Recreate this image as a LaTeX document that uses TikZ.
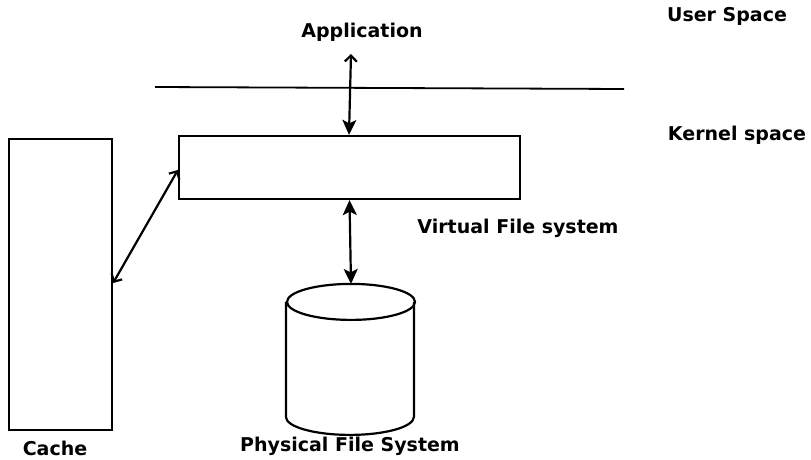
\documentclass[tikz,border=0pt]{standalone}
\usepackage{fontspec}
\setmainfont{DejaVu Sans}
\usetikzlibrary{positioning,arrows.meta}

\begin{document}
\begin{tikzpicture}[x=1pt,y=-1pt,line width=2.2pt,
  lbl/.style={font=\bfseries\fontsize{19}{22}\selectfont,inner sep=0pt},
  fil/.tip={Stealth[length=15pt,width=14pt,inset=3.5pt]},
  opn/.tip={Straight Barb[length=6pt,width=12pt]}]
\useasboundingbox (0,0) rectangle (811,460);
% labels
\node[lbl] (app) at (362,32) {Application};
\node[lbl] (user) at (727,16) {User Space};
\node[lbl] (kern) at (737,135) {Kernel space};
\node[lbl] (vfslbl) at (518,228) {Virtual File system};
\node[lbl] (pfslbl) at (350,446) {Physical File System};
\node[lbl] (cachelbl) at (55,448) {Cache};
% boxes
\node[draw,minimum width=341,minimum height=63,inner sep=0pt] (vfs) at (349.5,167.5) {};
\node[draw,minimum width=103,minimum height=291,inner sep=0pt] (cache) at (60.5,284.5) {};
\node[minimum width=128,minimum height=151,inner sep=0pt] (disk) at (351,360.5) {};
\draw (disk.north) ++(0,18) ellipse[x radius=64pt,y radius=18pt];
\draw (disk.north west) ++(0,18) -- ++(0,115)
  arc[start angle=180,end angle=360,x radius=64pt,y radius=18pt] -- ++(0,-115);
\coordinate (lineL) at (155,87);
\coordinate (lineR) at (624,89);
\coordinate (append) at (351,54);
% connectors
\draw[line width=1.8pt] (lineL) -- (lineR);
\draw[opn-fil] (append) -- (vfs.north -| 349,0);
\draw[fil-fil] (vfs.south) -- (disk.north);
\draw[opn-opn] (cache.east |- 0,283) -- (vfs.west |- 0,170);
\end{tikzpicture}
\end{document}
